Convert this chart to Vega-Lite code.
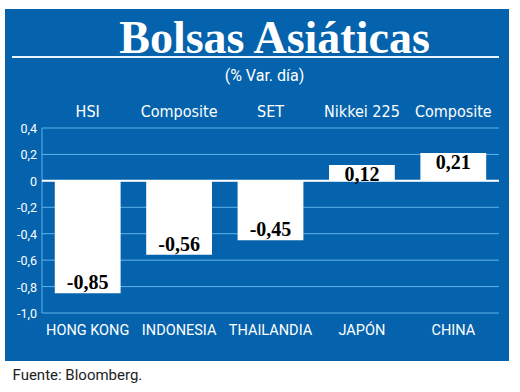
{
  "$schema": "https://vega.github.io/schema/vega-lite/v6.json",
  "width": 504,
  "height": 352,
  "autosize": {"type": "none"},
  "padding": {"left": 5, "top": 9, "right": 11, "bottom": 31},
  "background": "white",
  "config": {
    "view": {"fill": "#0563ad", "stroke": null},
    "locale": {"number": {"decimal": ",", "thousands": ".", "grouping": [3], "currency": ["", " €"], "minus": "-"}}
  },
  "datasets": {
    "bolsas": [
      {"pais": "HONG KONG", "indice": "HSI", "valor": -0.85},
      {"pais": "INDONESIA", "indice": "Composite", "valor": -0.56},
      {"pais": "THAILANDIA", "indice": "SET", "valor": -0.45},
      {"pais": "JAPÓN", "indice": "Nikkei 225", "valor": 0.12},
      {"pais": "CHINA", "indice": "Composite", "valor": 0.21}
    ],
    "marcas": [
      {"tick": 0.4, "etiqueta": "0,4"},
      {"tick": 0.2, "etiqueta": "0,2"},
      {"tick": 0, "etiqueta": "0"},
      {"tick": -0.2, "etiqueta": "-0,2"},
      {"tick": -0.4, "etiqueta": "-0,4"},
      {"tick": -0.6, "etiqueta": "-0,6"},
      {"tick": -0.8, "etiqueta": "-0,8"},
      {"tick": -1, "etiqueta": "-1,0"}
    ]
  },
  "data": {"name": "bolsas"},
  "resolve": {"axis": {"x": "independent"}},
  "layer": [
    {
      "data": {"name": "marcas"},
      "mark": {"type": "rule", "color": "#5fb3e8", "strokeWidth": 1},
      "encoding": {
        "x": {"datum": "HONG KONG", "bandPosition": -0.1945, "axis": null},
        "x2": {"datum": "CHINA", "bandPosition": 1.194},
        "y": {"field": "tick", "type": "quantitative", "axis": null}
      }
    },
    {
      "data": {"values": [{}]},
      "mark": {"type": "rule", "color": "#5fb3e8", "strokeWidth": 1},
      "encoding": {
        "x": {"datum": "HONG KONG", "bandPosition": -0.1945, "axis": null},
        "y": {"datum": -1, "axis": null},
        "y2": {"datum": 0.4}
      }
    },
    {
      "data": {"values": [{}]},
      "mark": {"type": "rule", "color": "white", "strokeWidth": 2},
      "encoding": {
        "x": {"datum": "HONG KONG", "bandPosition": -0.1945, "axis": null},
        "x2": {"datum": "CHINA", "bandPosition": 1.194},
        "y": {"datum": 0, "axis": null}
      }
    },
    {
      "data": {"name": "marcas"},
      "mark": {"type": "text", "align": "right", "baseline": "middle", "dx": -5, "dy": 1, "font": "Roboto", "fontSize": 12.5, "color": "white"},
      "encoding": {
        "x": {
          "datum": "HONG KONG", "bandPosition": -0.1945,
          "axis": {
            "orient": "top", "offset": 0, "labels": false, "ticks": false, "domain": false, "grid": false,
            "title": "(% Var. día)", "titleX": 259, "titleY": 66, "titleAlign": "center", "titleBaseline": "middle",
            "titleColor": "white", "titleFont": "Roboto", "titleFontSize": 16, "titleFontWeight": "normal"
          }
        },
        "y": {"field": "tick", "type": "quantitative", "axis": null},
        "text": {"field": "etiqueta", "type": "nominal"}
      }
    },
    {
      "mark": {"type": "bar", "color": "white"},
      "encoding": {
        "x": {
          "field": "pais", "type": "nominal", "sort": null,
          "scale": {"domain": ["HONG KONG", "INDONESIA", "THAILANDIA", "JAPÓN", "CHINA"], "range": [37, 494], "paddingInner": 0.28, "paddingOuter": 0.14},
          "axis": {
            "orient": "bottom", "offset": -48, "domain": false, "ticks": false, "tickSize": 0, "grid": false,
            "labelAngle": 0, "labelPadding": 10, "labelColor": "white", "labelFont": "Roboto", "labelFontSize": 14.5, "labelLimit": 200,
            "title": "Fuente: Bloomberg.", "titleX": 7, "titleY": 66, "titleAlign": "left", "titleBaseline": "alphabetic",
            "titleColor": "#222222", "titleFont": "Roboto", "titleFontSize": 15, "titleFontWeight": "normal"
          }
        },
        "y": {
          "field": "valor", "type": "quantitative",
          "scale": {"domain": [-1, 0.4], "range": [304, 119], "nice": false, "zero": false},
          "axis": null
        }
      }
    },
    {
      "transform": [{"filter": "datum.valor < 0"}],
      "mark": {"type": "text", "baseline": "alphabetic", "dy": -4, "font": "Liberation Serif", "fontWeight": "bold", "fontSize": 20, "color": "black"},
      "encoding": {
        "x": {"field": "pais", "type": "nominal", "sort": null, "axis": null},
        "y": {"field": "valor", "type": "quantitative", "axis": null},
        "text": {"field": "valor", "type": "quantitative", "format": ".2f"}
      }
    },
    {
      "transform": [{"filter": "datum.valor > 0"}],
      "mark": {"type": "text", "baseline": "top", "dy": 0, "font": "Liberation Serif", "fontWeight": "bold", "fontSize": 20, "color": "black"},
      "encoding": {
        "x": {"field": "pais", "type": "nominal", "sort": null, "axis": null},
        "y": {"field": "valor", "type": "quantitative", "axis": null},
        "text": {"field": "valor", "type": "quantitative", "format": ".2f"}
      }
    },
    {
      "mark": {"type": "text", "baseline": "alphabetic", "dy": -11, "font": "DejaVu Sans Condensed", "fontSize": 16, "color": "white"},
      "encoding": {
        "x": {
          "field": "pais", "type": "nominal", "sort": null,
          "axis": {
            "orient": "top", "offset": 0, "labels": false, "ticks": false, "domain": false, "grid": false,
            "title": "Bolsas Asiáticas", "titleX": 269, "titleY": 43, "titleAlign": "center", "titleBaseline": "alphabetic",
            "titleColor": "white", "titleFont": "Liberation Serif", "titleFontSize": 46, "titleFontWeight": "bold"
          }
        },
        "y": {"datum": 0.4, "axis": null},
        "text": {"field": "indice", "type": "nominal"}
      }
    },
    {
      "data": {"values": [{}]},
      "mark": {"type": "rule", "color": "#eaf4fc", "strokeWidth": 2},
      "encoding": {
        "x": {"datum": "HONG KONG", "bandPosition": -0.65, "axis": null},
        "x2": {"datum": "CHINA", "bandPosition": 1.194},
        "y": {"datum": 0.937, "axis": null}
      }
    }
  ]
}
